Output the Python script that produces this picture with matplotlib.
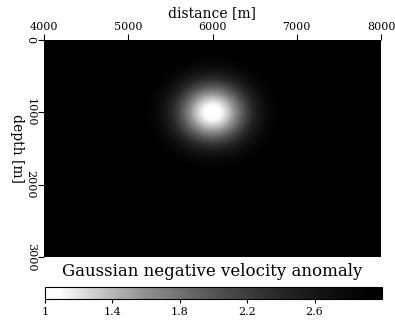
import numpy as np
import matplotlib
matplotlib.use("Agg")
import matplotlib.pyplot as plt
from matplotlib.colors import LinearSegmentedColormap

# Model parameters
x_range = [4000, 8000]       # distance [m]
z_range = [0, 3000]          # depth [m]
background_velocity = 3.0
anomaly_min_velocity = 1.0
anomaly_center = [6000, 1000]  # (x, z) in m
anomaly_width = 440.0          # m
x_ticks = [4000, 5000, 6000, 7000, 8000]
z_ticks = [0, 1000, 2000, 3000]
cbar_ticks = [1, 1.4, 1.8, 2.2, 2.6]
cbar_ticklabels = ["1", "1.4", "1.8", "2.2", "2.6"]
title = "Gaussian negative velocity anomaly"

x = np.linspace(x_range[0], x_range[1], 401)
z = np.linspace(z_range[0], z_range[1], 301)
X, Z = np.meshgrid(x, z)
r2 = (X - anomaly_center[0])**2 + (Z - anomaly_center[1])**2
V = background_velocity - (background_velocity - anomaly_min_velocity) * np.exp(-r2 / anomaly_width**2)

# grey ramp (white near 1, black near 3)
nodes = [(0.0, 1.0), (0.04, 1.0), (0.15, 0.8), (0.3, 0.56), (0.5, 0.33),
         (0.7, 0.15), (0.85, 0.06), (0.97, 0.0), (1.0, 0.0)]
cmap = LinearSegmentedColormap.from_list(
    "sfgrey", [(p, (g, g, g)) for p, g in nodes])

plt.rcParams['font.family'] = ['DejaVu Serif']

fig = plt.figure(figsize=(3.95, 3.22), dpi=100)
W, H = 395, 322
ax = fig.add_axes([44/W, (H-257)/H, (381-44)/W, (257-40)/H])
im = ax.imshow(V, cmap=cmap, vmin=anomaly_min_velocity, vmax=background_velocity,
               extent=[x_range[0], x_range[1], z_range[1], z_range[0]],
               aspect='auto', interpolation='bilinear')
ax.xaxis.tick_top()
ax.xaxis.set_label_position('top')
ax.set_xticks(x_ticks)
ax.set_yticks(z_ticks)
ax.set_xticklabels([str(t) for t in x_ticks], fontsize=8)
ax.set_yticklabels([str(t) for t in z_ticks], fontsize=8, rotation=-90, va='center')
ax.tick_params(axis='both', length=4, width=0.8, pad=2)
ax.set_xlabel("distance [m]", fontsize=10, labelpad=3)
ax.set_ylabel("depth [m]", fontsize=10, rotation=-90, labelpad=11)
for s in ax.spines.values():
    s.set_visible(False)

cax = fig.add_axes([45/W, (H-299)/H, (382-45)/W, 12/H])
cb = fig.colorbar(im, cax=cax, orientation='horizontal')
cb.set_ticks(cbar_ticks)
cb.set_ticklabels(cbar_ticklabels)
cax.tick_params(labelsize=8, length=3, width=0.8, pad=3)
cb.outline.set_linewidth(0.8)
fig.text(212/W, 1 - 271/H, title, ha='center', va='center', fontsize=12)

fig.savefig("out.png", dpi=100)
